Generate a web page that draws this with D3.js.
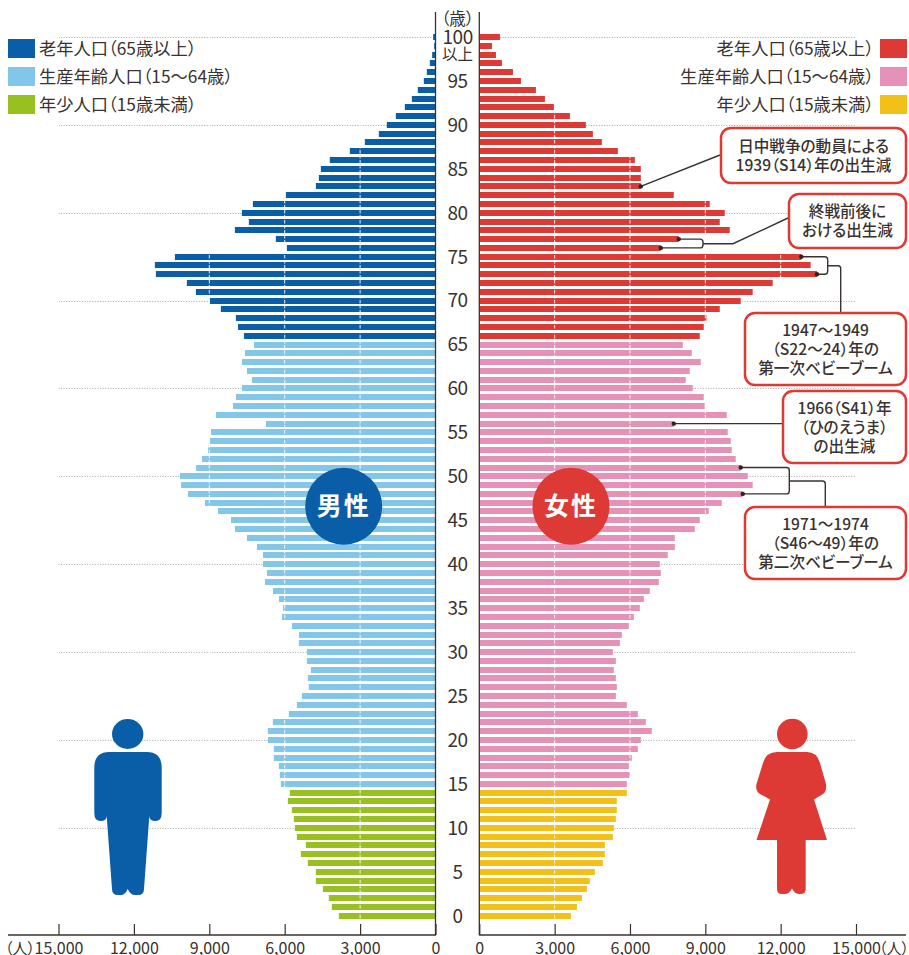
<!DOCTYPE html>
<html lang="ja">
<head>
<meta charset="utf-8">
<title>人口ピラミッド</title>
<script src="https://cdn.jsdelivr.net/npm/d3@7"></script>
<style>
html,body{margin:0;padding:0;background:#fff;overflow:hidden}
svg{display:block}
text{font-family:"Noto Sans CJK JP","Noto Sans",sans-serif;fill:#3a3230;font-feature-settings:"palt"}
</style>
</head>
<body>
<svg id="chart" width="909" height="955"></svg>
<script>
// Values are listed from age 100+ (first) down to age 0 (last)
const maleValues = [93,53,133,225,345,464,703,941,1220,1578,1936,2254,2811,3408,4204,4561,4641,4760,5954,7266,7704,7426,7982,6352,5914,10369,11165,11125,9892,9534,8977,8540,7943,7857,7618,7220,7578,7698,7499,7300,7698,7937,8056,8732,6743,8931,8971,9050,9289,9527,10164,10124,9846,9170,8652,8135,7976,7499,7101,6862,6862,6703,6783,6464,6226,6067,6106,5708,5430,5437,5118,5118,4959,5079,5039,5317,5516,5834,6471,6670,6670,6431,6431,6232,6193,6153,5795,5874,5715,5636,5596,5516,5158,5357,5079,4760,4760,4482,4243,4124,3845];
const femaleValues = [822,504,663,902,1339,1658,2254,2612,2970,3607,4243,4522,4880,5516,6193,6431,6431,6431,7744,9176,9773,9574,9972,7943,7227,12823,13194,13446,11682,10886,10409,9574,9043,8937,8778,8102,8460,8818,8380,8221,8500,8937,8977,9852,7744,9892,10011,10051,10210,10409,10687,10886,10489,9653,9136,8778,8579,7784,7784,7505,7187,7227,7147,6789,6551,6391,6153,5954,5675,5596,5317,5437,5357,5437,5476,5437,5874,6312,6630,6869,6431,6312,6073,5954,5994,5874,5874,5476,5476,5437,5357,5317,4999,4999,4920,4601,4402,4283,4084,3885,3647];
const ages = d3.range(100,-1,-1);
const ageTicks = [100,95,90,85,80,75,70,65,60,55,50,45,40,35,30,25,20,15,10,5,0];
const gridAges = [100,90,80,70,60,50,40,30,20,10];
const popTicks = [0,3000,6000,9000,12000,15000];
const legendLabels = ["老年人口（65歳以上）","生産年齢人口（15～64歳）","年少人口（15歳未満）"];
const maleColors = ["#0a5ea8","#82c6ea","#97c020"];
const femaleColors = ["#dd3a35","#e691b7","#f2c018"];
const callouts = [
  {lines:["日中戦争の動員による","1939（S14）年の出生減"],box:[721,128,906,183]},
  {lines:["終戦前後に","おける出生減"],box:[789,194,906,248]},
  {lines:["1947～1949","（S22～24）年の","第一次ベビーブーム"],box:[745,313,906,385]},
  {lines:["1966（S41）年","（ひのえうま）","の出生減"],box:[783,391,906,463]},
  {lines:["1971～1974","（S46～49）年の","第二次ベビーブーム"],box:[745,507,906,579]}
];
const dotAges = [83,77,76,75,73,56,51,48];

const svg = d3.select("#chart");
const ink = "#3a3230";
const xL = d3.scaleLinear().domain([0,15000]).range([435.5,58.5]);
const xR = d3.scaleLinear().domain([0,15000]).range([479.3,856]);
const yAge = d3.scaleLinear().domain([0,100]).range([915.7,37]);
const barH = 6;
const groupOf = a => a>=66?0:(a>=15?1:2);
const rows = ages.map((a,i)=>({age:a,m:maleValues[i],f:femaleValues[i]}));
const femaleOf = a => rows.find(r=>r.age===a).f;

// dotted age grid
const grid = svg.append("g");
gridAges.forEach(a=>{
  const y=Math.round(yAge(a))+.5;
  [[xL(15000),xL(0)],[xR(0),xR(15000)]].forEach(([x1,x2])=>{
    grid.append("line").attr("x1",x1).attr("x2",x2).attr("y1",y).attr("y2",y)
      .attr("stroke","#a9a5a3").attr("stroke-width",1).attr("stroke-dasharray","1 1.6");
  });
});

// bars
const barY = a => Math.round(yAge(a)-barH/2);
svg.append("g").selectAll("rect").data(rows).join("rect")
  .attr("x",d=>xL(d.m)).attr("width",d=>xL(0)-xL(d.m))
  .attr("y",d=>barY(d.age)).attr("height",barH)
  .attr("fill",d=>maleColors[groupOf(d.age)]);
svg.append("g").selectAll("rect").data(rows).join("rect")
  .attr("x",xR(0)).attr("width",d=>xR(d.f)-xR(0))
  .attr("y",d=>barY(d.age)).attr("height",barH)
  .attr("fill",d=>femaleColors[groupOf(d.age)]);

// white dashed verticals across bars
const vg = svg.append("g");
popTicks.slice(1).forEach(t=>{
  [xL(t),xR(t)].forEach(x=>{
    vg.append("line").attr("x1",x).attr("x2",x).attr("y1",30).attr("y2",924)
      .attr("stroke","#fff").attr("stroke-width",1).attr("stroke-dasharray","3.5 1.5").attr("opacity",.9);
  });
});

// axes
function drawAxis(scale,x1,x2){
  const g = svg.append("g").attr("transform","translate(0,935)")
    .call(d3.axisBottom(scale).tickValues(popTicks).tickFormat(d3.format(",")).tickSize(-11).tickSizeOuter(0).tickPadding(5));
  g.select(".domain").remove();
  g.selectAll("line").attr("stroke",ink).attr("stroke-width",1.2);
  g.selectAll("text").attr("font-size",16).attr("fill",ink).attr("y",7).attr("dy",".72em")
    .style("font-family",'"Noto Sans CJK JP"');
  svg.append("line").attr("x1",x1).attr("x2",x2).attr("y1",935).attr("y2",935).attr("stroke",ink).attr("stroke-width",1.3);
}
drawAxis(xL,8,436);
drawAxis(xR,479,906);
[xL(0),xR(0)].forEach(x=>svg.append("line").attr("x1",x).attr("x2",x).attr("y1",12).attr("y2",935)
  .attr("stroke",ink).attr("stroke-width",1.3));
svg.append("text").attr("x",8).attr("y",954).attr("font-size",15).text("（人）").attr("dx",-3);
svg.append("text").attr("x",909).attr("y",954).attr("text-anchor","end").attr("font-size",15).text("（人）").attr("dx",0);

// age labels
const ageX = 457.6;
svg.append("g").selectAll("text").data(ageTicks).join("text")
  .attr("x",ageX).attr("y",d=>yAge(d)).attr("dy",".36em").attr("text-anchor","middle")
  .attr("font-size",19).attr("letter-spacing",-.4).text(d=>d);
svg.append("text").attr("x",ageX).attr("y",54).attr("dy",".36em").attr("text-anchor","middle").attr("font-size",15.5).text("以上");
svg.append("text").attr("x",ageX).attr("y",19).attr("dy",".36em").attr("text-anchor","middle").attr("font-size",16.5).text("（歳）");

// legends
const legY = [39,67,95];
legendLabels.forEach((t,i)=>{
  svg.append("rect").attr("x",8).attr("y",legY[i]).attr("width",27).attr("height",19).attr("fill",maleColors[i]);
  svg.append("rect").attr("x",880).attr("y",legY[i]).attr("width",27).attr("height",19).attr("fill",femaleColors[i]);
  svg.append("text").attr("x",39).attr("y",legY[i]+9.5).attr("dy",".36em").attr("font-size",17.3).text(t);
  svg.append("text").attr("x",874).attr("y",legY[i]+9.5).attr("dy",".36em").attr("text-anchor","end").attr("font-size",17.3).text(t);
});

// callout leaders
const leader = svg.append("g").attr("fill","none").attr("stroke",ink).attr("stroke-width",1.4);
const dx = a => xR(femaleOf(a));
const dy = a => yAge(a);
function bracket(a1,a2,xb){
  const y1=dy(a1),y2=dy(a2),p=d3.path();
  p.moveTo(dx(a1),y1); p.lineTo(xb-3,y1); p.quadraticCurveTo(xb,y1,xb,y1+3);
  p.lineTo(xb,y2-3); p.quadraticCurveTo(xb,y2,xb-3,y2); p.lineTo(dx(a2),y2);
  return p.toString();
}
leader.append("path").attr("d",`M${dx(83)},${dy(83)}L720,155`);
leader.append("path").attr("d",bracket(77,76,703));
leader.append("path").attr("d",`M703,243.7L733,243.7L788,218`);
leader.append("path").attr("d",bracket(75,73,827.7));
leader.append("path").attr("d",`M827.7,265.7L838,265.7Q840.7,265.7 840.7,268.5L840.7,313`);
leader.append("path").attr("d",`M${dx(56)},${dy(56)}L783,${dy(56)}`);
leader.append("path").attr("d",bracket(51,48,789.3));
leader.append("path").attr("d",`M789.3,481L822.5,481Q825.3,481 825.3,484L825.3,507`);
svg.append("g").selectAll("circle").data(dotAges).join("circle")
  .attr("cx",dx).attr("cy",dy).attr("r",2.2).attr("fill","#2a2422");

// callout boxes
callouts.forEach(c=>{
  const [x1,y1,x2,y2]=c.box;
  svg.append("rect").attr("x",x1).attr("y",y1).attr("width",x2-x1).attr("height",y2-y1)
    .attr("rx",10).attr("fill","#fff").attr("stroke","#dd3a35").attr("stroke-width",2.5);
  const cx=(x1+x2)/2, cy=(y1+y2)/2, lh=19;
  c.lines.forEach((t,i)=>{
    svg.append("text").attr("x",cx).attr("y",cy+(i-(c.lines.length-1)/2)*lh).attr("dy",".36em")
      .attr("text-anchor","middle").attr("font-size",15.6).attr("font-weight",500).text(t);
  });
});

// gender circles
[["男性",343.7,"#0a5ea8"],["女性",571,"#dd3a35"]].forEach(([t,cx,col])=>{
  svg.append("circle").attr("cx",cx).attr("cy",506.3).attr("r",38.5).attr("fill",col);
  svg.append("text").attr("x",cx).attr("y",506.3).attr("dy",".36em").attr("text-anchor","middle")
    .attr("font-size",25).attr("font-weight",700).attr("letter-spacing",2).style("fill","#fff").text(t);
});

// pictograms
svg.append("ellipse").attr("cx",127.7).attr("cy",734).attr("rx",15.7).attr("ry",15).attr("fill","#0a5ea8");
svg.append("path").attr("fill","#0a5ea8").attr("d",
 "M109,752Q94.3,752 94.3,768L94.3,813Q94.3,821 100.5,821Q106.7,821 106.7,816L112,889Q112,895 118,895L121,895Q125,895 127.7,889Q130.5,895 135,895L138,895Q144,895 144,889L149.3,816Q149.3,821 155.5,821Q161.7,821 161.7,813L161.7,768Q161.7,752 147,752Z");
svg.append("circle").attr("cx",792.3).attr("cy",734).attr("r",15.3).attr("fill","#dd3a35");
svg.append("path").attr("fill","#dd3a35").attr("d",
 "M777,752Q766,752 763,763L756.5,784Q755,791 760,794L770,799.5L756.5,840L777,840L777,889Q777,894 782,894L785,894Q789,894 792,888.5Q795,894 799,894L801,894Q805.7,894 805.7,889L805.7,840L827,840L814,799.5L823,794Q827,791 826,784L820,763Q817,752 807,752Z");
</script>
</body>
</html>
